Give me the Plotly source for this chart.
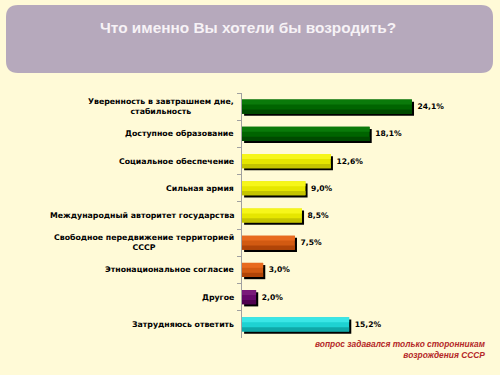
import plotly.graph_objects as go

categories = [
    "Уверенность в завтрашнем дне, стабильность",
    "Доступное образование",
    "Социальное обеспечение",
    "Сильная армия",
    "Международный авторитет государства",
    "Свободное передвижение территорией СССР",
    "Этнонациональное согласие",
    "Другое",
    "Затрудняюсь ответить",
]
tick_labels = [
    "Уверенность в завтрашнем дне,<br>стабильность",
    "Доступное образование",
    "Социальное обеспечение",
    "Сильная армия",
    "Международный авторитет государства",
    "Свободное передвижение территорией<br>СССР",
    "Этнонациональное согласие",
    "Другое",
    "Затрудняюсь ответить",
]
values = [24.1, 18.1, 12.6, 9.0, 8.5, 7.5, 3.0, 2.0, 15.2]

top_colors = ["#0A7A0A", "#0A7A0A", "#F6F61A", "#F6F61A", "#F6F61A", "#E86A1E", "#E86A1E", "#7A1A7A", "#3AE6E6"]
mid_colors = ["#006400", "#006400", "#E6E600", "#E6E600", "#E6E600", "#D25A12", "#D25A12", "#66086A", "#1ED2D2"]
bot_colors = ["#004A00", "#004A00", "#C4C400", "#C4C400", "#C4C400", "#B04408", "#B04408", "#500050", "#0FA8A8"]

value_text = [f"{v:.1f}".replace(".", ",") + "%" for v in values]

BG = "#FFFAD7"
W, H = 500, 375
L, R, T, B = 242, 10, 93, 37
pw, ph = W - L - R, H - T - B

def px(x):
    return (x - L) / pw

def py(y):
    return (H - B - y) / ph

fig = go.Figure()

bw = 0.52
# shadow
fig.add_trace(go.Bar(
    y=categories, x=values, orientation="h", base=0.3,
    width=bw, offset=-bw / 2 + 0.08,
    marker=dict(color="#000000", line=dict(width=0)),
    hoverinfo="skip", showlegend=False,
))
# main bar with label
fig.add_trace(go.Bar(
    y=categories, x=values, orientation="h",
    width=bw, offset=-bw / 2,
    marker=dict(color=mid_colors, line=dict(width=0)),
    text=value_text, textposition="outside",
    textfont=dict(family="DejaVu Sans", size=7.6, color="#000000"),
    texttemplate="<b> %{text}</b>",
    cliponaxis=False, showlegend=False,
))
# gradient strips
fig.add_trace(go.Bar(
    y=categories, x=values, orientation="h",
    width=bw * 0.35, offset=-bw / 2,
    marker=dict(color=top_colors, line=dict(width=0)),
    hoverinfo="skip", showlegend=False,
))
fig.add_trace(go.Bar(
    y=categories, x=values, orientation="h",
    width=bw * 0.3, offset=bw / 2 - bw * 0.3,
    marker=dict(color=bot_colors, line=dict(width=0)),
    hoverinfo="skip", showlegend=False,
))

# category labels as annotations (centered multi-line)
for c, lab in zip(categories, tick_labels):
    fig.add_annotation(
        x=px(236), xref="paper", y=c, yref="y",
        text="<b>" + lab + "</b>", showarrow=False,
        xanchor="right", align="center",
        font=dict(family="DejaVu Sans", size=7.8, color="#000000"),
    )

# title box
x0, x1, y0, y1, r = 6, 493, 5, 73, 12
path = (
    f"M {px(x0 + r)} {py(y0)} L {px(x1 - r)} {py(y0)} "
    f"Q {px(x1)} {py(y0)} {px(x1)} {py(y0 + r)} "
    f"L {px(x1)} {py(y1 - r)} Q {px(x1)} {py(y1)} {px(x1 - r)} {py(y1)} "
    f"L {px(x0 + r)} {py(y1)} Q {px(x0)} {py(y1)} {px(x0)} {py(y1 - r)} "
    f"L {px(x0)} {py(y0 + r)} Q {px(x0)} {py(y0)} {px(x0 + r)} {py(y0)} Z"
)
fig.add_shape(type="path", path=path, xref="paper", yref="paper",
              fillcolor="#B6A9BC", line=dict(width=0), layer="below")
fig.add_annotation(
    x=px(248), y=py(27), xref="paper", yref="paper",
    text="<b>Что именно Вы хотели бы возродить?</b>", showarrow=False,
    xanchor="center", yanchor="middle",
    font=dict(family="Liberation Sans", size=15.4, color="#F6F2F6"),
)

# footnote
fig.add_annotation(
    x=px(488), y=py(349), xref="paper", yref="paper",
    text="<b><i>вопрос задавался только сторонникам<br>возрождения СССР</i></b>",
    showarrow=False, xanchor="right", yanchor="middle", align="right",
    font=dict(family="Liberation Sans", size=8.4, color="#B42828"),
)

fig.update_layout(
    width=W, height=H,
    margin=dict(l=L, r=R, t=T, b=B, pad=0),
    paper_bgcolor=BG, plot_bgcolor=BG,
    barmode="overlay", bargap=0.5,
    showlegend=False,
    xaxis=dict(range=[0, pw / 7.05], visible=False, fixedrange=True),
    yaxis=dict(
        autorange="reversed", showticklabels=False, fixedrange=True,
        showline=True, linecolor="#A0A0A0", linewidth=1,
        ticks="outside", tickson="boundaries", ticklen=4, tickcolor="#A0A0A0",
        showgrid=False, zeroline=False,
    ),
)

fig.write_html(
    "out.html",
    config={"displayModeBar": False},
    post_script="document.body.style.margin='0';document.body.style.overflow='hidden';document.body.style.background='#FFFAD7';",
)
